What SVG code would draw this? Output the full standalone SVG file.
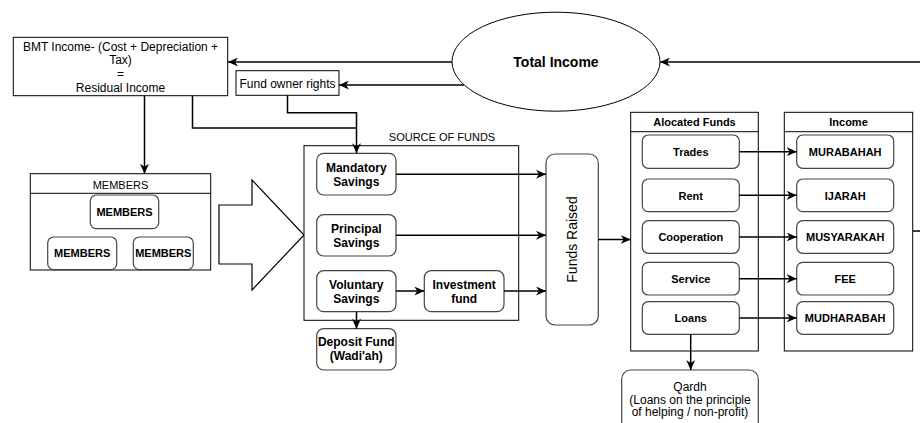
<svg xmlns="http://www.w3.org/2000/svg" width="920" height="423" viewBox="0 0 920 423">
  <defs>
    <marker id="arrow" markerUnits="userSpaceOnUse" markerWidth="11" markerHeight="9" refX="10" refY="4.5" orient="auto">
      <path d="M0,0 L10,4.5 L0,9 L3,4.5 z" fill="#000"/>
    </marker>
    <style>
      text { font-family: "Liberation Sans", Arial, sans-serif; fill: #000; }
      .box { fill: #fff; stroke: #000; stroke-width: 1; }
      .rbox { fill: #fff; stroke: #444; stroke-width: 1.2; }
      .edge { fill: none; stroke: #000; stroke-width: 1.5; }
      .arr { marker-end: url(#arrow); }
      .t12 { font-size: 12px; text-anchor: middle; }
      .t12b { font-size: 12px; font-weight: bold; text-anchor: middle; }
      .t11 { font-size: 11px; text-anchor: middle; }
      .t11b { font-size: 11px; font-weight: bold; text-anchor: middle; }
    </style>
  </defs>

  <rect width="920" height="423" fill="#fff"/>

  <!-- residual income -->
  <g id="bmt-income">
    <rect class="box" x="13.3" y="37.3" width="214.4" height="58.4"/>
    <text class="t12" x="120.5" y="50.5">BMT Income- (Cost + Depreciation +</text>
    <text class="t12" x="120.5" y="64.3">Tax)</text>
    <text class="t12" x="120.5" y="78.1">=</text>
    <text class="t12" x="120.5" y="91.8">Residual Income</text>
  </g>

  <g id="fund-owner-rights">
    <rect class="box" x="236" y="70.7" width="103" height="24.6"/>
    <text class="t12" x="287.5" y="87.6">Fund owner rights</text>
  </g>

  <g id="total-income">
    <ellipse cx="556" cy="61.7" rx="104" ry="49.5" fill="#fff" stroke="#000" stroke-width="1"/>
    <text x="556" y="67.2" font-size="14" font-weight="bold" text-anchor="middle">Total Income</text>
  </g>

  <!-- members pool -->
  <g id="members">
    <rect class="box" x="30.3" y="173.7" width="180.4" height="96.3"/>
    <line x1="30.3" y1="193.3" x2="210.7" y2="193.3" stroke="#000" stroke-width="1"/>
    <text class="t11" x="120.5" y="189">MEMBERS</text>
    <g id="member-1">
      <rect class="rbox" x="90.3" y="195" width="68.4" height="33.7" rx="6"/>
      <text class="t11b" x="124.5" y="215.6">MEMBERS</text>
    </g>
    <g id="member-2">
      <rect class="rbox" x="47.7" y="237" width="69" height="32.7" rx="6"/>
      <text class="t11b" x="82.2" y="257.2">MEMBERS</text>
    </g>
    <g id="member-3">
      <rect class="rbox" x="133.3" y="237" width="60" height="32.7" rx="6"/>
      <text class="t11b" x="163.3" y="257.2">MEMBERS</text>
    </g>
  </g>

  <g id="flow-arrow">
    <polygon points="219,205 252,205 252,180 304,235 252,290 252,264 219,264" fill="#fff" stroke="#000" stroke-width="1.2" stroke-linejoin="miter"/>
  </g>

  <!-- source of funds -->
  <g id="source-of-funds">
    <rect class="box" x="304" y="145.7" width="214.7" height="174.6"/>
    <text class="t11" x="442" y="141">SOURCE OF FUNDS</text>
  </g>
  <g id="mandatory-savings">
    <rect class="rbox" x="316.7" y="153.3" width="79.3" height="41.7" rx="7"/>
    <text class="t12b" x="356.3" y="172">Mandatory</text>
    <text class="t12b" x="356.3" y="186.4">Savings</text>
  </g>
  <g id="principal-savings">
    <rect class="rbox" x="316.7" y="214.7" width="79.3" height="41.3" rx="7"/>
    <text class="t12b" x="356.3" y="233">Principal</text>
    <text class="t12b" x="356.3" y="247.4">Savings</text>
  </g>
  <g id="voluntary-savings">
    <rect class="rbox" x="316.7" y="270.7" width="79.3" height="41" rx="7"/>
    <text class="t12b" x="356.3" y="288.5">Voluntary</text>
    <text class="t12b" x="356.3" y="302.9">Savings</text>
  </g>
  <g id="investment-fund">
    <rect class="rbox" x="424.3" y="270.7" width="79.7" height="41" rx="7"/>
    <text class="t12b" x="464.2" y="288.5">Investment</text>
    <text class="t12b" x="464.2" y="302.9">fund</text>
  </g>
  <g id="deposit-fund">
    <rect class="rbox" x="316.7" y="328.7" width="79.3" height="41.3" rx="7"/>
    <text class="t12b" x="356.3" y="346">Deposit Fund</text>
    <text class="t12b" x="356.3" y="360.4">(Wadi'ah)</text>
  </g>

  <g id="funds-raised">
    <rect class="rbox" x="546" y="154" width="52.3" height="171" rx="9"/>
    <text transform="translate(577,239.5) rotate(-90)" x="0" y="0" font-size="14" text-anchor="middle">Funds Raised</text>
  </g>

  <!-- allocation of funds -->
  <g id="allocated-funds">
    <rect class="box" x="630.7" y="112.3" width="127.6" height="238.7"/>
    <line x1="630.7" y1="131.7" x2="758.3" y2="131.7" stroke="#000" stroke-width="1"/>
    <text class="t11b" x="694.5" y="126.3">Alocated Funds</text>
  </g>
  <g id="trades">
    <rect class="rbox" x="642.3" y="135" width="97" height="33.3" rx="6"/>
    <text class="t11b" x="690.8" y="156.2">Trades</text>
  </g>
  <g id="rent">
    <rect class="rbox" x="642.3" y="179" width="97" height="32.7" rx="6"/>
    <text class="t11b" x="690.8" y="199.6">Rent</text>
  </g>
  <g id="cooperation">
    <rect class="rbox" x="642.3" y="220.7" width="97" height="32.6" rx="6"/>
    <text class="t11b" x="690.8" y="241">Cooperation</text>
  </g>
  <g id="service">
    <rect class="rbox" x="642.3" y="262.3" width="97" height="32.7" rx="6"/>
    <text class="t11b" x="690.8" y="282.5">Service</text>
  </g>
  <g id="loans">
    <rect class="rbox" x="642.3" y="301.7" width="97" height="32.6" rx="6"/>
    <text class="t11b" x="690.8" y="322">Loans</text>
  </g>

  <!-- income types -->
  <g id="income">
    <rect class="box" x="784.3" y="112.3" width="128.4" height="238.7"/>
    <line x1="784.3" y1="131.7" x2="912.7" y2="131.7" stroke="#000" stroke-width="1"/>
    <text class="t11b" x="848.5" y="126.3">Income</text>
  </g>
  <g id="murabahah">
    <rect class="rbox" x="796.7" y="135" width="97" height="33.3" rx="6"/>
    <text class="t11b" x="845.2" y="156.2">MURABAHAH</text>
  </g>
  <g id="ijarah">
    <rect class="rbox" x="796.7" y="179" width="97" height="32.7" rx="6"/>
    <text class="t11b" x="845.2" y="199.6">IJARAH</text>
  </g>
  <g id="musyarakah">
    <rect class="rbox" x="796.7" y="220.7" width="97" height="32.6" rx="6"/>
    <text class="t11b" x="845.2" y="241">MUSYARAKAH</text>
  </g>
  <g id="fee">
    <rect class="rbox" x="796.7" y="262.3" width="97" height="32.7" rx="6"/>
    <text class="t11b" x="845.2" y="282.5">FEE</text>
  </g>
  <g id="mudharabah">
    <rect class="rbox" x="796.7" y="301.7" width="97" height="32.6" rx="6"/>
    <text class="t11b" x="845.2" y="322">MUDHARABAH</text>
  </g>

  <g id="qardh">
    <rect class="rbox" x="621.7" y="370" width="136.6" height="70" rx="9"/>
    <text class="t12" x="690" y="391">Qardh</text>
    <text class="t12" x="690" y="403.6">(Loans on the principle</text>
    <text class="t12" x="690" y="416.3">of helping / non-profit)</text>
  </g>

  <!-- connectors, drawn above the containers -->
  <g id="connectors">
    <path class="edge arr" d="M452,62 H228"/>
    <path class="edge arr" d="M464,85 H339"/>
    <path class="edge arr" d="M920,62 H660"/>
    <path class="edge" d="M913,231 H920"/>
    <path class="edge arr" d="M144.5,95.7 V173.7"/>
    <path class="edge" d="M192.5,95.7 V128 H356.5"/>
    <path class="edge arr" d="M287.5,95.3 V112.7 H356.5 V153.3"/>
    <path class="edge arr" d="M396,174.3 H546"/>
    <path class="edge arr" d="M396,235.3 H546"/>
    <path class="edge arr" d="M396,291 H424.3"/>
    <path class="edge arr" d="M504,291 H546"/>
    <path class="edge arr" d="M356.5,311.7 V328.7"/>
    <path class="edge arr" d="M598,239.5 H630.7"/>
    <path class="edge arr" d="M739.3,151.7 H796.7"/>
    <path class="edge arr" d="M739.3,195.3 H796.7"/>
    <path class="edge arr" d="M739.3,237 H796.7"/>
    <path class="edge arr" d="M739.3,278.7 H796.7"/>
    <path class="edge arr" d="M739.3,318 H796.7"/>
    <path class="edge arr" d="M690.7,334.3 V370"/>
  </g>
</svg>
